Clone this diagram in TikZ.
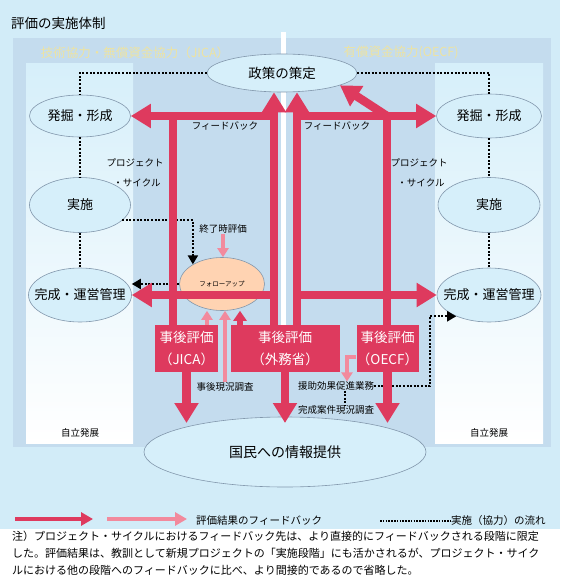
\documentclass[tikz,border=0pt]{standalone}
\usepackage{fontspec}
\setmainfont{Noto Sans CJK JP}
\usepackage{tikz}
\usetikzlibrary{arrows, arrows.meta, positioning, shapes.geometric, shapes}

\definecolor{bgblue}{HTML}{D2ECF8}
\definecolor{panelblue}{HTML}{C4DCEE}
\definecolor{lightblue}{HTML}{D6EFFA}
\definecolor{redc}{HTML}{DE3A5E}
\definecolor{pinkc}{HTML}{F28A9D}
\definecolor{peach}{HTML}{FFD3B2}
\definecolor{edgec}{HTML}{8297AC}
\definecolor{headyellow}{HTML}{EDE3A2}

\newcommand{\zerow}[1]{\makebox[0pt]{#1}}

\begin{document}
\begin{tikzpicture}[x=1pt, y=-1pt,
  stage/.style={ellipse, draw=edgec, line width=0.6pt, fill=lightblue, inner sep=0pt, font=\fontsize{13}{13}\selectfont},
  evalbox/.style={rectangle, fill=redc, text=white, inner sep=0pt, align=center, minimum height=47pt, font=\fontsize{13.5}{22}\selectfont},
  smalltext/.style={inner sep=0pt, font=\fontsize{9.5}{9.5}\selectfont},
  headtext/.style={inner sep=0pt, text=headyellow, font=\fontsize{12.5}{12.5}\selectfont},
  legtext/.style={inner sep=0pt, font=\fontsize{10.5}{10.5}\selectfont},
  redbar/.style={draw=redc, line width=8.5pt},
  redarrow/.style={redbar, -{Triangle[width=23pt,length=20pt]}},
  redsmall/.style={draw=redc, line width=6pt, -{Triangle[width=13pt,length=10pt]}},
  pinkarrow/.style={draw=pinkc, line width=4.5pt, -{Triangle[width=11pt,length=9pt]}},
  dotline/.style={draw=black, line width=2pt, dash pattern=on 2pt off 1.6pt},
  dotarrow/.style={dotline, -{Triangle[width=10pt,length=9pt]}}
]
\useasboundingbox (0,0) rectangle (560,580);

% background
\fill[bgblue] (0,0) rectangle (560,529);
\fill[white] (0,529) rectangle (560,580);
\fill[panelblue] (13,38) rectangle (281,447);
\fill[panelblue] (286,38) rectangle (551,447);
\fill[white] (281,32) rectangle (286,447);
\shade[top color=lightblue, bottom color=white] (26,64) rectangle (133,443);
\shade[top color=lightblue, bottom color=white] (435,64) rectangle (543,443);

% nodes
\node[anchor=west, inner sep=0pt, font=\fontsize{13.5}{13.5}\selectfont] (title) at (11,23) {評価の実施体制};
\node[headtext] (head1) at (135,53) {技術協力・無償資金協力（JICA）};
\node[headtext] (head2) at (401,52) {有償資金協力(OECF)};

\node[stage, minimum width=150pt, minimum height=38pt, font=\fontsize{13.5}{13.5}\selectfont] (pol) at (282,73) {\zerow{政策の策定}};
\node[stage, minimum width=101pt, minimum height=42pt] (dev) at (80,116) {\zerow{発掘・形成}};
\node[stage, minimum width=101pt, minimum height=55pt] (imp) at (80,205) {\zerow{実施}};
\node[stage, minimum width=103pt, minimum height=54pt] (comp) at (80,295) {\zerow{完成・運営管理}};
\node[stage, minimum width=105pt, minimum height=44pt] (dev2) at (489,116) {\zerow{発掘・形成}};
\node[stage, minimum width=102pt, minimum height=55pt] (imp2) at (489,205) {\zerow{実施}};
\node[stage, minimum width=104pt, minimum height=54pt] (comp2) at (489,295) {\zerow{完成・運営管理}};
\node[stage, fill=peach, minimum width=85pt, minimum height=53pt, font=\fontsize{6.5}{6.5}\selectfont] (fol) at (222,284) {\zerow{フォローアップ}};
\node[stage, minimum width=282pt, minimum height=70pt, font=\fontsize{14}{14}\selectfont] (info) at (285,452) {\zerow{国民への情報提供}};

\node[evalbox, minimum width=63pt] (jica) at (186.5,348.5) {事後評価\\（JICA）};
\node[evalbox, minimum width=109pt] (mofa) at (285,348.5) {事後評価\\（外務省）};
\node[evalbox, minimum width=62pt] (oecf) at (387.5,348.5) {事後評価\\（OECF）};

\node[smalltext] (fb1) at (225,126) {フィードバック};
\node[smalltext] (fb2) at (337,126) {フィードバック};
\node[smalltext] (pc1) at (135,163) {プロジェクト};
\node[smalltext] (sc1) at (137,183) {・サイクル};
\node[smalltext] (pc2) at (419,163) {プロジェクト};
\node[smalltext] (sc2) at (421,183) {・サイクル};
\node[smalltext] (endv) at (223,229) {終了時評価};
\node[smalltext] (surv) at (225,387) {事後現況調査};
\node[smalltext] (aid) at (336,386) {援助効果促進業務};
\node[smalltext] (done) at (336,410) {完成案件現況調査};
\node[smalltext] (self1) at (80,433) {自立発展};
\node[smalltext] (self2) at (489,433) {自立発展};

% junctions
\coordinate (a1) at (173,116);
\coordinate (b1) at (274,116);
\coordinate (b2) at (274,295);
\coordinate (c1) at (297,116);
\coordinate (c2) at (297,295);
\coordinate (d1) at (387,116);
\coordinate (low) at (0,423);
\coordinate (r1) at (240,0);
\coordinate (p1) at (207,0);
\coordinate (p2) at (347,357);
\coordinate (d2) at (430,0);
\coordinate (d3) at (345,0);

% dotted arrows
\draw[dotline] (pol.west) -| (dev.north);
\draw[dotline] (pol.east) -| (dev2.north);
\draw[dotline] (dev) -- (imp);
\draw[dotline] (imp) -- (comp);
\draw[dotline] (dev2) -- (imp2);
\draw[dotline] (imp2) -- (comp2);
\draw[dotarrow] (imp.-20) -| (fol.146);
\draw[dotarrow] (fol.west) -- (fol.west -| comp.east);
\draw[dotarrow] (aid.east) -| (d2 |- comp2.213) -- (comp2.213);
\draw[dotline] (aid.south -| d3) -- (done.north -| d3);

% red arrows
\draw[redbar] (jica.north -| a1) -- (a1);
\draw[redarrow] (b1) -- (dev);
\draw[redarrow] (mofa.north -| b1) -- (pol.south -| b1);
\draw[redarrow] (b2) -- (comp);
\draw[redarrow] (mofa.north -| c1) -- (pol.south -| c1);
\draw[redarrow] (c1) -- (dev2);
\draw[redarrow] (c2) -- (comp2);
\draw[redbar] (oecf.north -| d1) -- (d1);
\draw[redarrow] (d1) -- (pol.-12);
\draw[redarrow] (jica.south) -- (jica.south |- low);
\draw[redarrow] (mofa.south) -- (mofa.south |- low);
\draw[redarrow] (oecf.south) -- (oecf.south |- low);
\draw[redsmall] (mofa.north -| r1) -- (fol.south -| r1);

% pink arrows
\draw[pinkarrow] (jica.north -| p1) -- (fol.south -| p1);
\draw[pinkarrow] (surv.north) -- (surv.north |- fol.south);
\draw[pinkarrow] (endv.south) -- (endv.south |- fol.north);
\draw[pinkarrow] (p2 -| oecf.west) -| (aid.north -| p2);

% legend
\coordinate (lg1) at (15,519);
\coordinate (lg2) at (93,519);
\coordinate (lg3) at (107,519);
\coordinate (lg4) at (187,519);
\coordinate (lg5) at (380,521);
\node[legtext, anchor=west] (lgt1) at (196,521) {評価結果のフィードバック};
\node[legtext, anchor=west] (lgt2) at (451,521) {実施（協力）の流れ};
\draw[draw=redc, line width=4.5pt, -{Triangle[width=13pt,length=12pt]}] (lg1) -- (lg2);
\draw[draw=pinkc, line width=4.5pt, -{Triangle[width=13pt,length=12pt]}] (lg3) -- (lg4);
\draw[line width=1.5pt, dash pattern=on 1.5pt off 1.3pt] (lg5) -- (lgt2.west);

% note
\node[anchor=north west, align=left, inner sep=0pt, font=\fontsize{11}{16.8}\selectfont] (note) at (12,531) {注）プロジェクト・サイクルにおけるフィードバック先は、より直接的にフィードバックされる段階に限定\\した。評価結果は、教訓として新規プロジェクトの「実施段階」にも活かされるが、プロジェクト・サイク\\ルにおける他の段階へのフィードバックに比べ、より間接的であるので省略した。};

\end{tikzpicture}
\end{document}
